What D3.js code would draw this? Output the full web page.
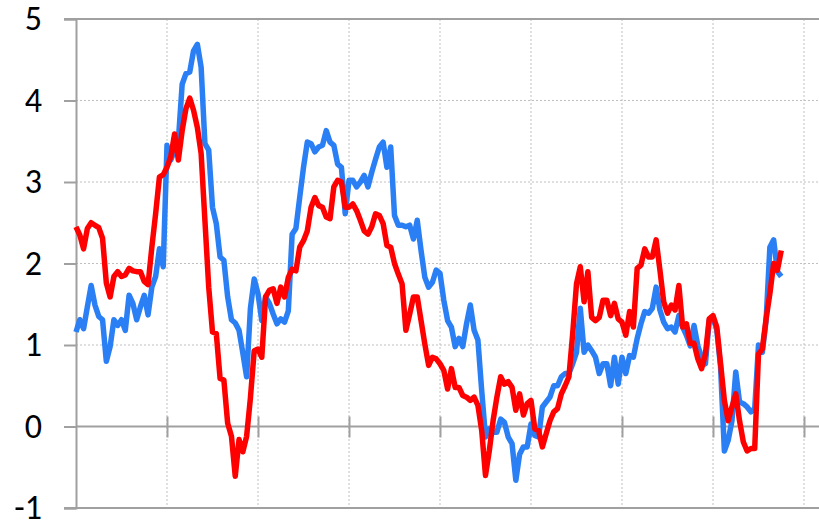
<!DOCTYPE html>
<html>
<head>
<meta charset="utf-8">
<script src="https://cdn.jsdelivr.net/npm/d3@7"></script>
<style>
  body { margin: 0; background: #fff; }
  .axis text { font-family: Calibri, Carlito, "Liberation Sans", sans-serif; font-size: 34px; fill: #000; }
</style>
</head>
<body>
<svg id="chart" width="819" height="522"></svg>
<script>
// series values, one per period
var blueValues = [
  1.16,1.31,1.20,1.47,1.73,1.49,1.35,1.31,0.80,0.98,1.31,1.24,1.31,1.18,1.61,1.51,1.31,1.47,1.61,1.37,
  1.71,1.84,2.18,1.96,3.45,3.27,3.39,3.51,4.20,4.33,4.35,4.61,4.69,4.41,3.47,3.39,2.69,2.49,2.08,2.04,
  1.59,1.31,1.27,1.18,0.90,0.61,1.45,1.81,1.63,1.30,1.59,1.51,1.38,1.26,1.32,1.28,1.42,2.36,2.43,2.81,
  3.18,3.49,3.47,3.37,3.43,3.45,3.63,3.49,3.45,3.22,3.18,2.61,3.02,3.02,2.94,3.00,3.08,2.94,3.12,3.28,
  3.43,3.49,3.18,3.43,2.59,2.47,2.47,2.45,2.47,2.30,2.53,2.16,1.83,1.71,1.77,1.92,1.88,1.55,1.30,1.22,
  0.98,1.08,0.98,1.26,1.49,1.18,1.06,0.44,-0.13,-0.03,-0.07,-0.07,0.09,0.05,-0.13,-0.21,-0.66,-0.34,-0.25,-0.25,
  0.03,-0.11,-0.13,0.24,0.30,0.36,0.50,0.50,0.61,0.65,0.65,0.77,0.91,1.45,0.91,1.00,0.93,0.85,0.65,0.77,
  0.77,0.50,0.85,0.52,0.85,0.65,0.87,0.85,1.08,1.26,1.41,1.39,1.45,1.71,1.43,1.28,1.20,1.22,1.16,1.36,
  1.22,1.12,0.99,1.24,0.99,0.85,0.77,1.30,1.34,1.18,0.73,-0.30,-0.17,0.07,0.67,0.30,0.28,0.24,0.18,0.22,
  1.00,0.91,1.30,2.20,2.29,1.90,1.84
];
var redValues = [
  2.45,2.35,2.18,2.43,2.50,2.47,2.44,2.31,1.76,1.59,1.84,1.90,1.84,1.86,1.94,1.91,1.90,1.90,1.78,1.74,
  2.20,2.61,3.06,3.09,3.18,3.31,3.59,3.27,3.63,3.90,4.03,3.88,3.67,3.35,2.53,1.71,1.16,1.14,0.59,0.57,
  0.04,-0.12,-0.61,-0.16,-0.31,-0.12,0.35,0.93,0.95,0.85,1.59,1.67,1.69,1.51,1.71,1.59,1.83,1.93,1.91,2.20,
  2.28,2.40,2.69,2.81,2.71,2.69,2.57,2.55,2.94,3.02,3.00,2.69,2.69,2.73,2.65,2.53,2.40,2.36,2.45,2.61,
  2.59,2.49,2.22,2.20,2.00,1.87,1.75,1.18,1.38,1.59,1.59,1.30,1.01,0.75,0.85,0.83,0.77,0.69,0.46,0.71,
  0.48,0.48,0.38,0.36,0.32,0.36,0.26,-0.05,-0.60,-0.30,0.07,0.36,0.61,0.52,0.55,0.48,0.20,0.40,0.14,0.28,
  0.32,-0.03,-0.05,-0.25,-0.09,0.07,0.18,0.22,0.40,0.50,0.61,1.14,1.75,1.96,1.53,1.90,1.34,1.30,1.34,1.55,
  1.55,1.36,1.51,1.32,1.28,1.12,1.41,1.22,1.94,1.98,2.18,2.08,2.08,2.29,1.92,1.53,1.39,1.49,1.43,1.73,
  1.22,1.26,1.02,1.02,0.83,0.71,0.89,1.32,1.36,1.22,0.77,0.32,0.07,0.24,0.40,0.07,-0.19,-0.30,-0.27,-0.27,
  0.89,0.95,1.32,1.63,2.00,1.92,2.16
];
var yTicks = [-1, 0, 1, 2, 3, 4, 5];
var xTicks = [0, 24, 48, 72, 96, 120, 144, 168, 192];   // one gridline every 24 periods

var svg = d3.select("#chart");
var plotLeft = 76, plotTop = 19, plotBottom = 508, plotRight = 819;
var axisColor = "#a0a0a0", gridColor = "#c0c0c0";

var x = d3.scaleLinear().domain([0, 192]).range([plotLeft, 804]);
var y = d3.scaleLinear().domain([-1, 5]).range([plotBottom, plotTop]);

// dotted gridlines
svg.append("g").selectAll("line")
  .data(yTicks.filter(function(d) { return d > -1 && d < 5 && d != 0; }))
  .enter().append("line")
  .attr("x1", plotLeft).attr("x2", plotRight)
  .attr("y1", function(d) { return y(d); }).attr("y2", function(d) { return y(d); })
  .attr("stroke", gridColor).attr("stroke-dasharray", "2,2");
svg.append("g").selectAll("line")
  .data(xTicks.slice(1))
  .enter().append("line")
  .attr("x1", function(d) { return x(d); }).attr("x2", function(d) { return x(d); })
  .attr("y1", plotTop).attr("y2", plotBottom)
  .attr("stroke", gridColor).attr("stroke-dasharray", "2,2");

// solid top and bottom borders
[5, -1].forEach(function(v) {
  svg.append("line")
    .attr("x1", 64).attr("x2", plotRight)
    .attr("y1", y(v)).attr("y2", y(v))
    .attr("stroke", axisColor).attr("stroke-width", 2);
});

// y axis (plain hyphen for the minus sign, as in the original)
var yAxis = svg.append("g")
  .attr("class", "axis")
  .attr("transform", "translate(" + plotLeft + ",0)")
  .call(d3.axisLeft(y).tickValues(yTicks).tickSize(12).tickPadding(22)
    .tickFormat(function(d) { return String(d); }));
yAxis.select(".domain").attr("stroke", axisColor).attr("stroke-width", 2);
yAxis.selectAll(".tick line").attr("stroke", axisColor).attr("stroke-width", 2);

// x axis at zero with crossing ticks
var xAxis = svg.append("g")
  .attr("transform", "translate(0," + y(0) + ")")
  .call(d3.axisBottom(x).tickValues(xTicks.slice(1)).tickSize(11).tickFormat(""));
xAxis.select(".domain").attr("d", "M" + plotLeft + ",0H" + plotRight).attr("stroke", axisColor).attr("stroke-width", 2);
xAxis.selectAll(".tick line").attr("y1", -10).attr("stroke", axisColor).attr("stroke-width", 2);

// series lines
var line = d3.line()
  .x(function(d, i) { return x(i); })
  .y(function(d) { return y(d); });

svg.append("path")
  .datum(blueValues)
  .attr("d", line)
  .attr("fill", "none")
  .attr("stroke", "#2a7ff5")
  .attr("stroke-width", 5.5)
  .attr("stroke-linejoin", "round");

svg.append("path")
  .datum(redValues)
  .attr("d", line)
  .attr("fill", "none")
  .attr("stroke", "#ff0000")
  .attr("stroke-width", 5.5)
  .attr("stroke-linejoin", "round");
</script>
</body>
</html>
